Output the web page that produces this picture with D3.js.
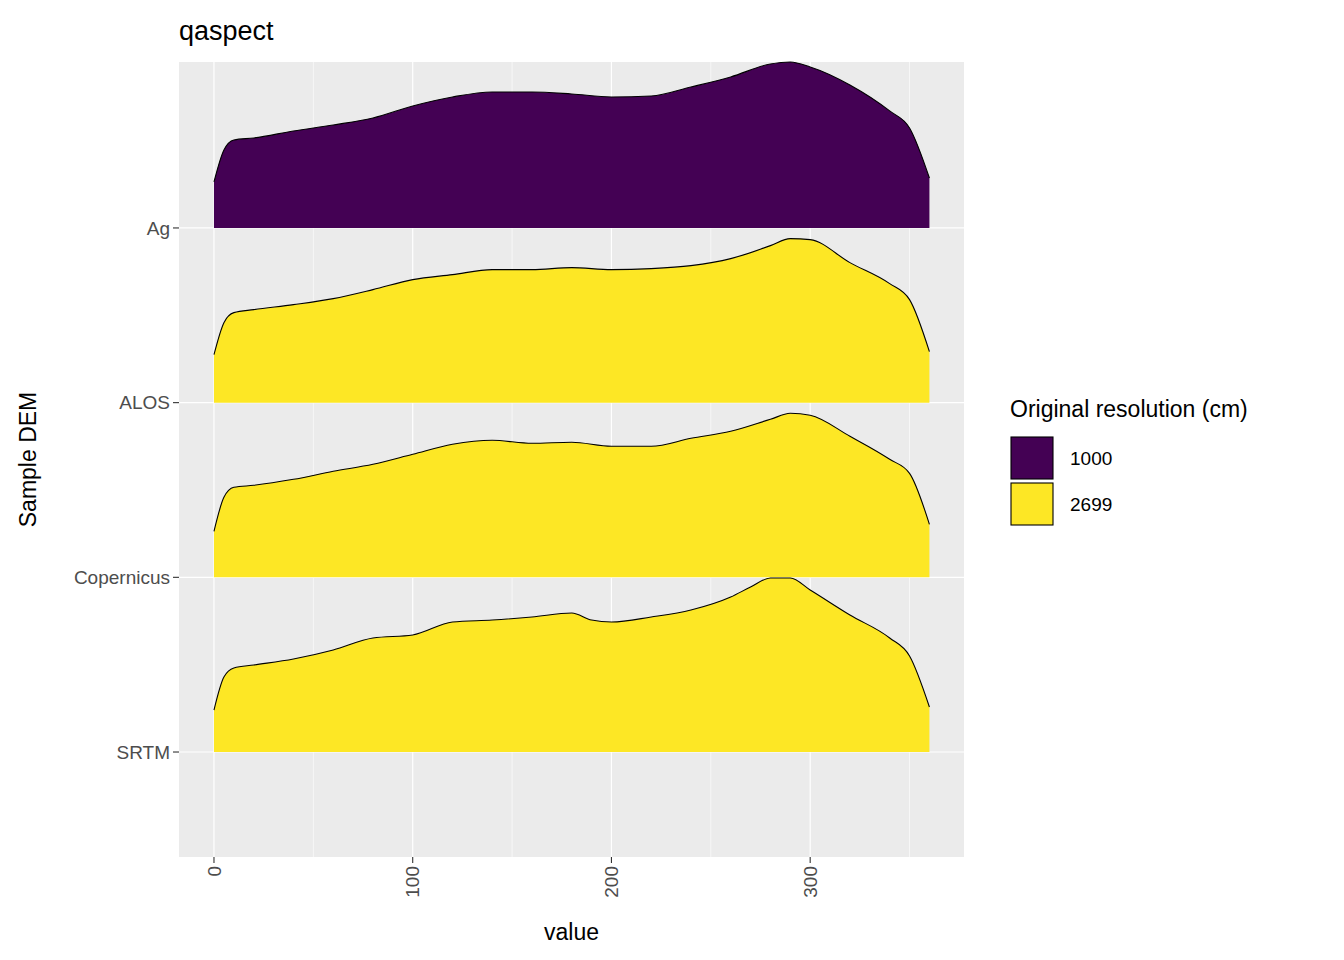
<!DOCTYPE html><html><head><meta charset="utf-8">
<script src="https://cdn.jsdelivr.net/npm/d3@7"></script>
<style>body{margin:0;background:#fff}text{font-family:Arial,"Liberation Sans",sans-serif}</style>
</head><body><svg id="c" width="1344" height="960"></svg>
<script>
const categories=["SRTM","Copernicus","ALOS","Ag"];
const resolution={"SRTM":"2699","Copernicus":"2699","ALOS":"2699","Ag":"1000"};
const legendKeys=["1000","2699"];
const legendColors=["#440154","#FDE725"];
const xTicks=[0,100,200,300];
const xs=[0,5,10,20,40,60,80,100,120,140,160,180,200,220,240,260,280,290,300,320,340,350,360];
const dAg=[0.46,0.78,0.88,0.90,0.97,1.03,1.10,1.22,1.31,1.36,1.36,1.34,1.31,1.32,1.41,1.51,1.64,1.66,1.61,1.43,1.17,1.00,0.50];
const dALOS=[0.48,0.80,0.90,0.93,0.98,1.04,1.13,1.23,1.28,1.33,1.33,1.35,1.33,1.34,1.37,1.44,1.57,1.64,1.63,1.40,1.19,1.03,0.51];
const dCop=[0.46,0.80,0.90,0.92,0.98,1.06,1.13,1.23,1.33,1.37,1.34,1.35,1.31,1.31,1.39,1.46,1.58,1.64,1.62,1.41,1.18,1.04,0.53];
const srtmX=[0,5,10,20,40,60,80,100,120,140,160,180,190,200,220,240,260,270,280,290,300,320,340,350,360];
const dSRTM=[0.42,0.75,0.84,0.87,0.93,1.02,1.14,1.17,1.30,1.32,1.35,1.39,1.32,1.30,1.35,1.42,1.55,1.65,1.74,1.74,1.62,1.37,1.14,0.96,0.45];
const series={"Ag":[xs,dAg],"ALOS":[xs,dALOS],"Copernicus":[xs,dCop],"SRTM":[srtmX,dSRTM]};

const svg=d3.select("#c");
const L=179,R=964,T=62,B=857;
const x=d3.scaleLinear().domain([-17.6,377.4]).range([L,R]);
const y=d3.scaleLinear().domain([0.399,4.95]).range([B,T]);
const hScale=100/174.67;
const color=d3.scaleOrdinal().domain(legendKeys).range(legendColors);
svg.append("rect").attr("x",L).attr("y",T).attr("width",R-L).attr("height",B-T).attr("fill","#EBEBEB");
[50,150,250,350].forEach(v=>svg.append("line").attr("x1",x(v)).attr("x2",x(v)).attr("y1",T).attr("y2",B).attr("stroke","#fff").attr("stroke-width",0.6));
xTicks.forEach(v=>svg.append("line").attr("x1",x(v)).attr("x2",x(v)).attr("y1",T).attr("y2",B).attr("stroke","#fff").attr("stroke-width",1.2));
categories.forEach((c,i)=>svg.append("line").attr("x1",L).attr("x2",R).attr("y1",y(i+1)).attr("y2",y(i+1)).attr("stroke","#fff").attr("stroke-width",1.2));
// ridges top (Ag) first so lower ones overlap
const order=["Ag","ALOS","Copernicus","SRTM"];
order.forEach(c=>{
  const k=categories.indexOf(c)+1;
  const [xx,dd]=series[c];
  const pts=xx.map((v,i)=>[v,dd[i]]);
  const area=d3.area().x(d=>x(d[0])).y0(y(k)).y1(d=>y(k+d[1]*hScale)).curve(d3.curveMonotoneX);
  const line=d3.line().x(d=>x(d[0])).y(d=>y(k+d[1]*hScale)).curve(d3.curveMonotoneX);
  svg.append("path").datum(pts).attr("d",area).attr("fill",color(resolution[c]));
  svg.append("path").datum(pts).attr("d",line).attr("fill","none").attr("stroke","#000").attr("stroke-width",1.1);
});
// axes
categories.forEach((c,i)=>{
  const yy=y(i+1);
  svg.append("line").attr("x1",L-6).attr("x2",L).attr("y1",yy).attr("y2",yy).attr("stroke","#333").attr("stroke-width",1.1);
  svg.append("text").attr("x",L-9).attr("y",yy).attr("dy","0.35em").attr("text-anchor","end").attr("font-size",19).attr("fill","#4D4D4D").text(c);
});
xTicks.forEach(v=>{
  svg.append("line").attr("x1",x(v)).attr("x2",x(v)).attr("y1",B).attr("y2",B+6).attr("stroke","#333").attr("stroke-width",1.1);
  svg.append("text").attr("transform",`translate(${x(v)},${B+9}) rotate(-90)`).attr("dy","0.35em").attr("text-anchor","end").attr("font-size",19).attr("fill","#4D4D4D").text(v);
});
svg.append("text").attr("x",(L+R)/2).attr("y",940).attr("text-anchor","middle").attr("font-size",23).text("value");
svg.append("text").attr("transform",`translate(36,${(T+B)/2}) rotate(-90)`).attr("text-anchor","middle").attr("font-size",23).text("Sample DEM");
svg.append("text").attr("x",179).attr("y",40).attr("font-size",27).text("qaspect");
// legend
svg.append("text").attr("x",1010).attr("y",417).attr("font-size",23).text("Original resolution (cm)");
legendKeys.forEach((k,i)=>{
  svg.append("rect").attr("x",1011).attr("y",437+i*46).attr("width",42).attr("height",42).attr("fill",color(k)).attr("stroke","#000").attr("stroke-width",1.1);
  svg.append("text").attr("x",1070).attr("y",458+i*46).attr("dy","0.35em").attr("font-size",19).text(k);
});
</script></body></html>
